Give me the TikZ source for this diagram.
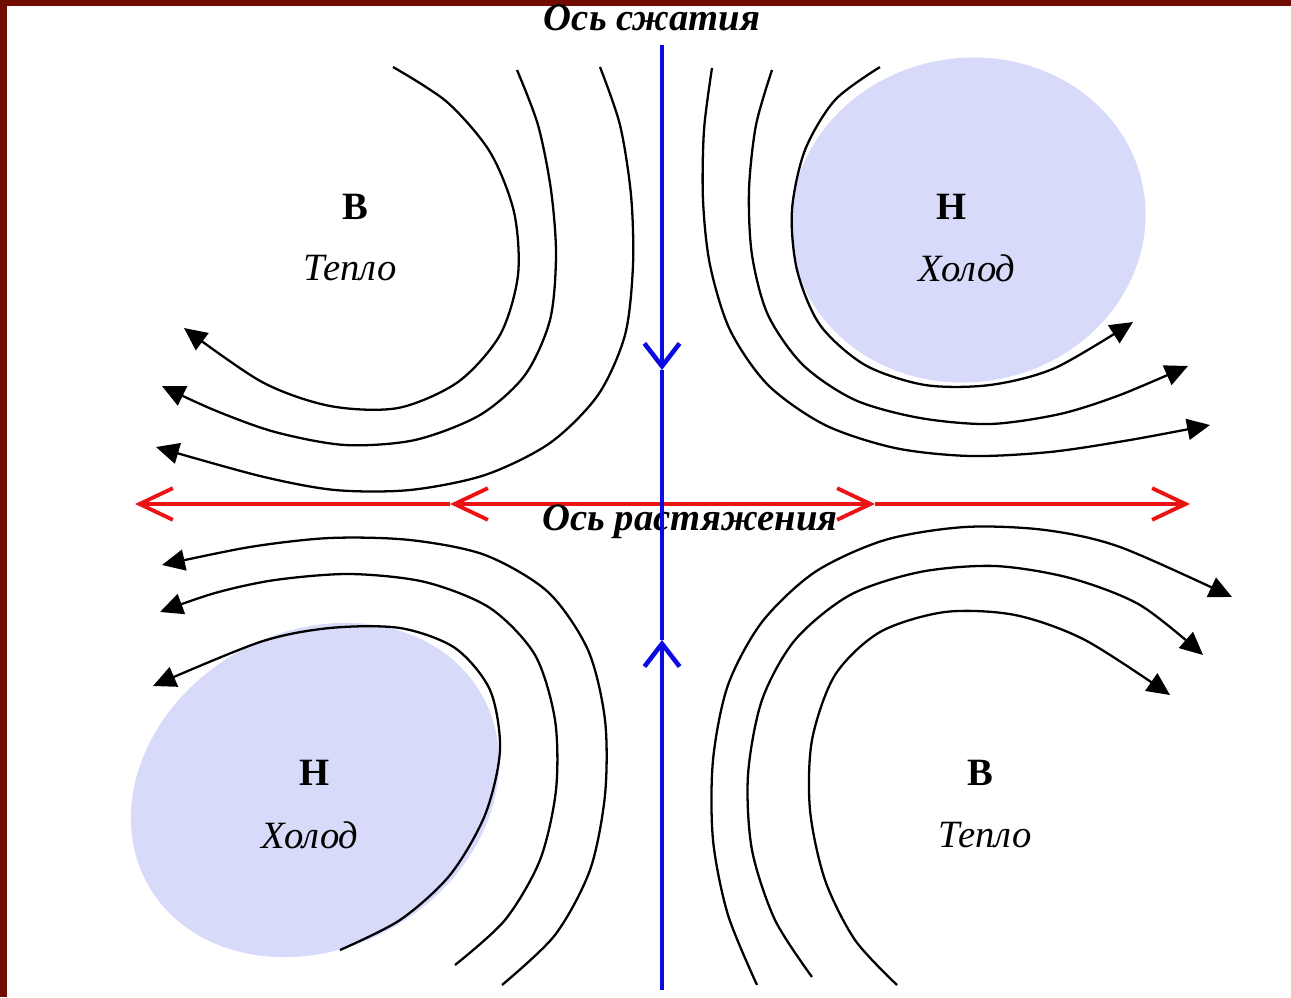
\documentclass[tikz,border=0pt]{standalone}
\usepackage{fontspec}
\setmainfont{Liberation Serif}
\usetikzlibrary{arrows.meta}
\definecolor{framered}{RGB}{112,12,0}
\definecolor{coldfill}{RGB}{216,218,250}
\definecolor{axisblue}{RGB}{10,10,225}
\definecolor{axisred}{RGB}{235,20,20}

\begin{document}
\begin{tikzpicture}[x=0.02cm, y=-0.02cm,
  flow/.style={black, line width=1.3pt, -{Triangle[length=13pt,width=12pt]}},
  redaxis/.style={axisred, line width=2.2pt, -{Straight Barb[length=19pt,width=18pt,line width=2.2pt]}},
  blueaxis/.style={axisblue, line width=2.6pt},
  bluetip/.style={blueaxis, -{Straight Barb[length=13pt,width=20pt,line width=2.6pt]}},
  centre/.style={font=\fontsize{22}{24}\selectfont\bfseries},
  temp/.style={font=\fontsize{22}{24}\selectfont\itshape},
  axislabel/.style={font=\fontsize{22}{24}\selectfont\bfseries\itshape}]
\useasboundingbox (0,0) rectangle (1291,997);
% Frame
\fill[framered] (0,0) rectangle (1291,6);
\fill[framered] (0,0) rectangle (7,997);

% Cold areas
\fill[coldfill, rotate around={10:(968,220)}] (968,220) ellipse [x radius=178, y radius=162];
\fill[coldfill, rotate around={30:(315,790)}] (315,790) ellipse [x radius=192, y radius=158];

% Streamlines, upper left
\draw[flow] plot[smooth] coordinates {(393,67) (447,102) (490,152) (514,212) (518,275) (500,335) (458,382) (398,408) (330,406) (262,382) (184,328)};
\draw[flow] plot[smooth] coordinates {(517,70) (538,125) (551,190) (556,255) (550,320) (525,375) (480,415) (415,440) (345,445) (275,432) (214,410) (162,386)};
\draw[flow] plot[smooth] coordinates {(600,67) (620,125) (631,195) (633,265) (625,335) (598,395) (550,443) (485,475) (410,490) (335,490) (260,476) (156,447)};

% Streamlines, upper right
\draw[flow] plot[smooth] coordinates {(880,67) (835,100) (805,150) (792,210) (797,270) (820,325) (865,365) (925,385) (990,385) (1055,368) (1133,322)};
\draw[flow] plot[smooth] coordinates {(772,70) (756,125) (749,190) (752,255) (768,315) (803,365) (855,400) (920,418) (990,424) (1060,414) (1120,395) (1188,366)};
\draw[flow] plot[smooth] coordinates {(712,68) (704,130) (703,200) (710,265) (730,330) (768,385) (825,425) (895,448) (970,456) (1050,452) (1130,440) (1210,425)};

% Streamlines, lower left
\draw[flow] plot[smooth] coordinates {(340,950) (400,920) (450,875) (485,815) (500,750) (490,690) (455,648) (400,628) (330,628) (260,642) (153,686)};
\draw[flow] plot[smooth] coordinates {(455,965) (505,920) (540,860) (556,790) (555,720) (535,655) (490,608) (425,582) (350,574) (275,580) (215,593) (160,612)};
\draw[flow] plot[smooth] coordinates {(502,985) (555,935) (590,870) (605,795) (605,720) (588,650) (548,592) (485,555) (410,540) (330,538) (250,547) (162,565)};

% Streamlines, lower right
\draw[flow] plot[smooth] coordinates {(897,985) (855,940) (825,880) (810,810) (812,740) (835,675) (880,632) (945,612) (1015,615) (1085,640) (1170,695)};
\draw[flow] plot[smooth] coordinates {(812,977) (775,920) (752,850) (748,775) (762,700) (795,640) (850,595) (920,572) (995,566) (1070,578) (1140,605) (1203,655)};
\draw[flow] plot[smooth] coordinates {(757,985) (728,915) (713,840) (713,760) (728,685) (762,622) (815,572) (885,540) (965,527) (1045,530) (1120,547) (1232,597)};

% Axis of dilatation
\coordinate (rmid) at (662,504);
\coordinate (rleft) at (135,504);
\coordinate (rleftin) at (450,504);
\coordinate (rright) at (1190,504);
\coordinate (rrightin) at (875,504);
\draw[redaxis] (rmid) -- (rleftin);
\draw[redaxis] (rleftin) -- (rleft);
\draw[redaxis] (rmid) -- (rrightin);
\draw[redaxis] (rrightin) -- (rright);

% Labels
\node[axislabel] (dilat) at (690,522) {Ось растяжения};
\node[axislabel] (compr) at (652,18) {Ось сжатия};
\node[centre] (highA) at (355,207) {В};
\node[temp] (warmA) at (350,268) {Тепло};
\node[centre] (lowA) at (952,207) {Н};
\node[temp] (coldA) at (967,268) {Холод};
\node[centre] (lowB) at (315,773) {Н};
\node[temp] (coldB) at (310,835) {Холод};
\node[centre] (highB) at (980,773) {В};
\node[temp] (warmB) at (985,835) {Тепло};

% Axis of compression
\coordinate (btop) at (662,45);
\coordinate (bdown) at (662,370);
\coordinate (bup) at (662,640);
\coordinate (bbot) at (662,990);
\draw[bluetip] (btop) -- (bdown);
\draw[blueaxis] (bdown) -- (bup);
\draw[bluetip] (bbot) -- (bup);
\end{tikzpicture}
\end{document}
